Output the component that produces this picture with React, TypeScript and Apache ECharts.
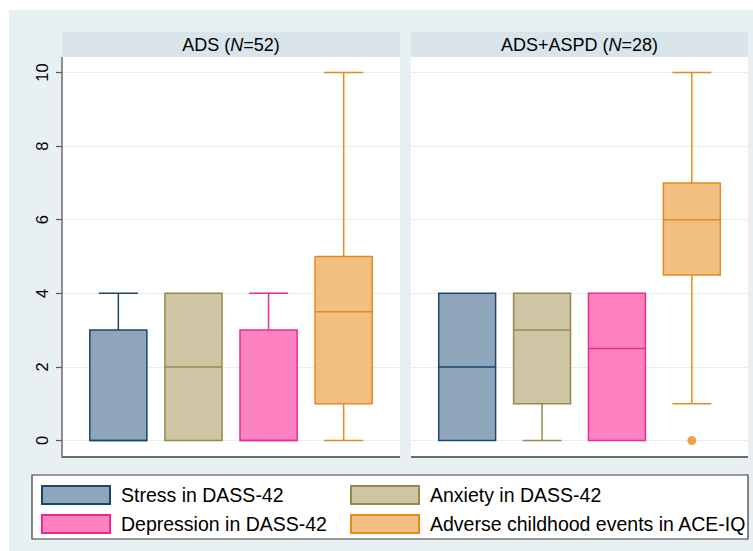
import React, { useEffect, useRef } from "react";
import * as echarts from "echarts";

// ---- data ----
const panels = ["ADS", "ADS+ASPD"];
const panelN = [52, 28];
const measures = [
  "Stress in DASS-42",
  "Anxiety in DASS-42",
  "Depression in DASS-42",
  "Adverse childhood events in ACE-IQ",
];
const positions = [0.75, 1.75, 2.75, 3.75];
// [min, q1, median, q3, max] per measure, per panel
const adsBoxes = [
  [0, 0, 0, 3, 4],
  [0, 0, 2, 4, 4],
  [0, 0, 0, 3, 4],
  [0, 1, 3.5, 5, 10],
];
const aspdBoxes = [
  [0, 0, 2, 4, 4],
  [0, 1, 3, 4, 4],
  [0, 0, 2.5, 4, 4],
  [1, 4.5, 6, 7, 10],
];
const aspdOutliers = [[3.75, 0]];
const yTicks = [0, 2, 4, 6, 8, 10];

const fills = ["#8fa5ba", "#cfc5a4", "#ff82c0", "#f1bf81"];
const strokes = ["#1a476f", "#948a4c", "#ee2a8f", "#e8891c"];

const FONT = "'Liberation Sans', Arial, sans-serif";
const BOX_W = 0.76;
const CAP_W = 0.52;

function makeRender(fill: string, stroke: string) {
  return (params: any, api: any) => {
    const x = api.value(0);
    const v = [1, 2, 3, 4, 5].map((i) => api.value(i));
    const cx = api.coord([x, v[0]])[0];
    const y = v.map((val: number) => api.coord([x, val])[1]);
    const bw = api.size([BOX_W, 0])[0];
    const cw = api.size([CAP_W, 0])[0];
    const ls = { stroke, lineWidth: 1.5, fill: "none" };
    const children: any[] = [];
    if (v[0] < v[1]) {
      children.push({ type: "line", shape: { x1: cx, y1: y[1], x2: cx, y2: y[0] }, style: ls });
      children.push({ type: "line", shape: { x1: cx - cw / 2, y1: y[0], x2: cx + cw / 2, y2: y[0] }, style: ls });
    }
    if (v[4] > v[3]) {
      children.push({ type: "line", shape: { x1: cx, y1: y[3], x2: cx, y2: y[4] }, style: ls });
      children.push({ type: "line", shape: { x1: cx - cw / 2, y1: y[4], x2: cx + cw / 2, y2: y[4] }, style: ls });
    }
    children.push({
      type: "rect",
      shape: { x: cx - bw / 2, y: y[3], width: bw, height: y[1] - y[3] },
      style: { fill, stroke, lineWidth: 1.5 },
    });
    children.push({
      type: "line",
      shape: { x1: cx - bw / 2, y1: y[2], x2: cx + bw / 2, y2: y[2] },
      style: { stroke, lineWidth: 1.5 },
    });
    return { type: "group", children };
  };
}

export default function App() {
  const ref = useRef<HTMLDivElement>(null);
  useEffect(() => {
    const chart = echarts.init(ref.current!, undefined, { renderer: "svg" });
    const panelLeft = [62, 411];
    const panelWidth = [338, 337];
    const series: any[] = [];
    [adsBoxes, aspdBoxes].forEach((boxes, p) => {
      boxes.forEach((b, i) => {
        series.push({
          type: "custom",
          name: measures[i],
          xAxisIndex: p,
          yAxisIndex: p,
          itemStyle: { color: fills[i], borderColor: strokes[i] },
          renderItem: makeRender(fills[i], strokes[i]),
          data: [[positions[i], ...b]],
          encode: { x: 0, y: [1, 2, 3, 4, 5] },
          z: 3,
        });
      });
    });
    series.push({
      type: "scatter",
      xAxisIndex: 1,
      yAxisIndex: 1,
      symbol: "circle",
      symbolSize: 9,
      itemStyle: { color: strokes[3] },
      data: aspdOutliers,
      z: 4,
    });

    const bgEls: any[] = [
      { type: "rect", z: -20, shape: { x: 9, y: 10, width: 744, height: 541 }, style: { fill: "#e9f0f3" } },
    ];
    panels.forEach((name, p) => {
      const l = panelLeft[p];
      const w = panelWidth[p];
      bgEls.push({ type: "rect", z: -15, shape: { x: l, y: 57, width: w, height: 400 }, style: { fill: "#ffffff" } });
      bgEls.push({ type: "rect", z: -15, shape: { x: l, y: 32, width: w, height: 25 }, style: { fill: "#d9e5eb" } });
      bgEls.push({
        type: "text",
        z: 5,
        style: {
          x: l + w / 2,
          y: 45,
          text: `{a|${name} (}{i|N}{a|=${panelN[p]})}`,
          align: "center",
          verticalAlign: "middle",
          rich: {
            a: { fontSize: 18, fontFamily: FONT, fill: "#000" },
            i: { fontSize: 18, fontFamily: FONT, fontStyle: "italic", fill: "#000" },
          },
        },
      });
      bgEls.push({
        type: "line",
        z: 5,
        shape: { x1: l, y1: 457, x2: l + w, y2: 457 },
        style: { stroke: "#6b6b6b", lineWidth: 2 },
      });
    });
    bgEls.push({
      type: "line",
      z: 5,
      shape: { x1: 62, y1: 57, x2: 62, y2: 458 },
      style: { stroke: "#6b6b6b", lineWidth: 1.5 },
    });
    bgEls.push({
      type: "rect",
      z: -10,
      shape: { x: 32, y: 475, width: 716, height: 64 },
      style: { fill: "#ffffff", stroke: "#3a3a3a", lineWidth: 1.2 },
    });

    const legendCommon = {
      orient: "vertical",
      itemWidth: 68,
      itemHeight: 18,
      itemGap: 9,
      padding: 0,
      icon: "rect",
      selectedMode: false,
      textStyle: { fontSize: 19.5, fontFamily: FONT, color: "#000", padding: [0, 0, 0, 6] },
    };
    const legendItem = (i: number) => ({
      name: measures[i],
      itemStyle: { color: fills[i], borderColor: strokes[i], borderWidth: 2 },
    });

    chart.setOption({
      animation: false,
      textStyle: { fontFamily: FONT },
      graphic: { elements: bgEls },
      legend: [
        { ...legendCommon, left: 41, top: 485, data: [legendItem(0), legendItem(2)] },
        { ...legendCommon, left: 350, top: 485, data: [legendItem(1), legendItem(3)] },
      ],
      grid: panelLeft.map((l, p) => ({ left: l, width: panelWidth[p], top: 72.5, height: 368 })),
      xAxis: [0, 1].map((p) => ({
        type: "value",
        gridIndex: p,
        min: 0,
        max: 4.5,
        show: false,
      })),
      yAxis: [0, 1].map((p) => ({
        type: "value",
        gridIndex: p,
        min: yTicks[0],
        max: yTicks[yTicks.length - 1],
        interval: 2,
        axisLine: { show: false },
        axisTick: { show: p === 0, length: 6, lineStyle: { color: "#555", width: 1.2 } },
        axisLabel: {
          show: p === 0,
          rotate: 90,
          margin: 12,
          fontSize: 16.5,
          fontFamily: FONT,
          color: "#000",
        },
        splitLine: { show: true, lineStyle: { color: "#e6eef2", width: 1.2 } },
        z: 1,
      })),
      series,
    });
    return () => chart.dispose();
  }, []);
  return (
    <div
      ref={ref}
      style={{ position: "absolute", left: 0, top: 0, width: 753, height: 551 }}
    />
  );
}
